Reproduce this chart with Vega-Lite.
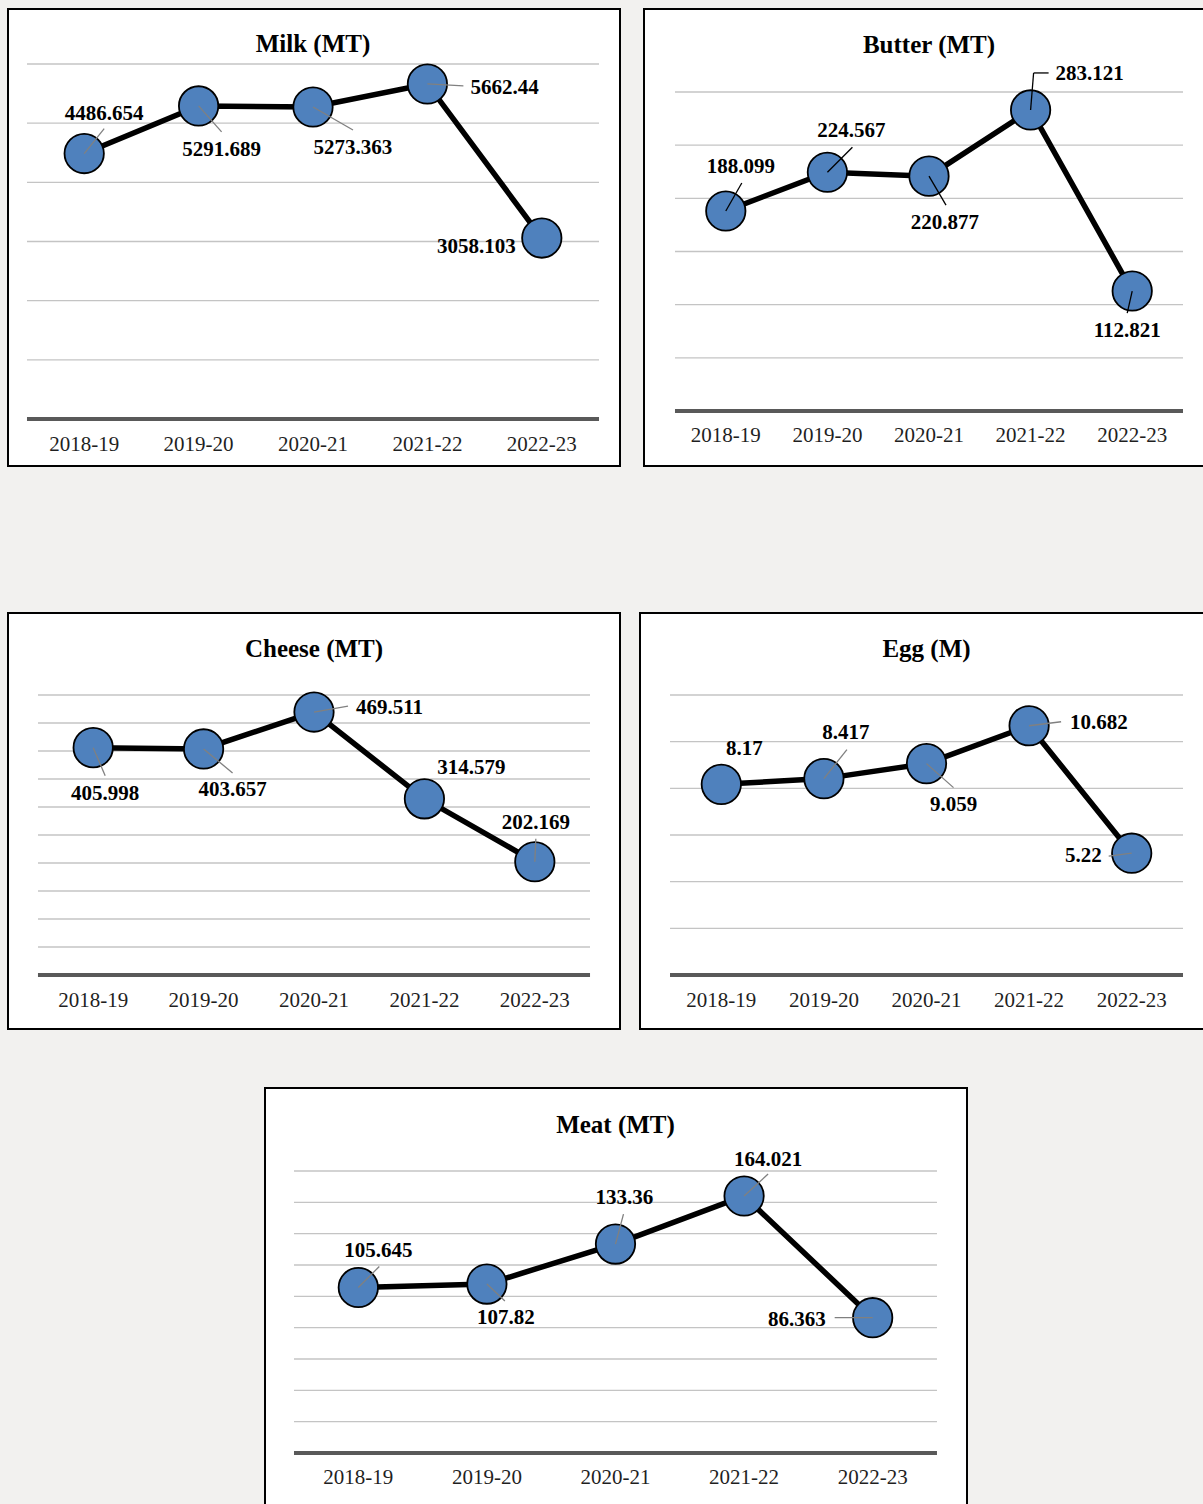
{
"$schema":"https://vega.github.io/schema/vega-lite/v6.json",
"background":"#f2f1ef",
"padding":{"left":7,"top":8,"right":0,"bottom":0},
"datasets":{"d":[
{"item":"Milk (MT)","year":"2018-19","value":4486.654},
{"item":"Milk (MT)","year":"2019-20","value":5291.689},
{"item":"Milk (MT)","year":"2020-21","value":5273.363},
{"item":"Milk (MT)","year":"2021-22","value":5662.44},
{"item":"Milk (MT)","year":"2022-23","value":3058.103},
{"item":"Butter (MT)","year":"2018-19","value":188.099},
{"item":"Butter (MT)","year":"2019-20","value":224.567},
{"item":"Butter (MT)","year":"2020-21","value":220.877},
{"item":"Butter (MT)","year":"2021-22","value":283.121},
{"item":"Butter (MT)","year":"2022-23","value":112.821},
{"item":"Cheese (MT)","year":"2018-19","value":405.998},
{"item":"Cheese (MT)","year":"2019-20","value":403.657},
{"item":"Cheese (MT)","year":"2020-21","value":469.511},
{"item":"Cheese (MT)","year":"2021-22","value":314.579},
{"item":"Cheese (MT)","year":"2022-23","value":202.169},
{"item":"Egg (M)","year":"2018-19","value":8.17},
{"item":"Egg (M)","year":"2019-20","value":8.417},
{"item":"Egg (M)","year":"2020-21","value":9.059},
{"item":"Egg (M)","year":"2021-22","value":10.682},
{"item":"Egg (M)","year":"2022-23","value":5.22},
{"item":"Meat (MT)","year":"2018-19","value":105.645},
{"item":"Meat (MT)","year":"2019-20","value":107.82},
{"item":"Meat (MT)","year":"2020-21","value":133.36},
{"item":"Meat (MT)","year":"2021-22","value":164.021},
{"item":"Meat (MT)","year":"2022-23","value":86.363}
]},
"config":{
"view":{"fill":"white","stroke":"black","strokeWidth":2},
"axis":{"disable":true},
"text":{"font":"Liberation Serif","fontSize":21,"fontWeight":"bold","color":"black","baseline":"middle"}
},
"vconcat":[
{"vconcat":[
{"hconcat":[
{"width":612,"height":457,"layer":[
{"data":{"values":[{"g":1000},{"g":2000},{"g":3000},{"g":4000},{"g":5000},{"g":6000}]},"mark":{"type":"rule","color":"#c4c4c4","strokeWidth":1.3},"encoding":{"x":{"datum":0.5,"type":"quantitative","scale":{"domain":[0.334,5.6835],"nice":false,"zero":false}},"x2":{"datum":5.5},"y":{"field":"g","type":"quantitative","scale":{"domain":[-794.3,6929.6],"nice":false,"zero":false}}}},
{"data":{"values":[{}]},"mark":{"type":"rule","color":"#595959","strokeWidth":4},"encoding":{"x":{"datum":0.5,"type":"quantitative","scale":{"domain":[0.334,5.6835],"nice":false,"zero":false}},"x2":{"datum":5.5},"y":{"datum":0,"type":"quantitative","scale":{"domain":[-794.3,6929.6],"nice":false,"zero":false}}}},
{"data":{"name":"d"},"transform":[{"filter":"datum.item === 'Milk (MT)'"},{"window":[{"op":"row_number","as":"i"}],"sort":[{"field":"year","order":"ascending"}]}],"layer":[
{"mark":{"type":"text","fontWeight":"normal","color":"#1f1f1f"},"encoding":{"x":{"field":"i","type":"quantitative","scale":{"domain":[0.334,5.6835],"nice":false,"zero":false}},"y":{"datum":-431,"type":"quantitative","scale":{"domain":[-794.3,6929.6],"nice":false,"zero":false}},"text":{"field":"year","type":"nominal"}}},
{"mark":{"type":"line","color":"black","strokeWidth":5.5},"encoding":{"x":{"field":"i","type":"quantitative","scale":{"domain":[0.334,5.6835],"nice":false,"zero":false}},"y":{"field":"value","type":"quantitative","scale":{"domain":[-794.3,6929.6],"nice":false,"zero":false}}}},
{"mark":{"type":"circle","fill":"#4f81bd","stroke":"black","strokeWidth":1.8,"size":1550,"opacity":1},"encoding":{"x":{"field":"i","type":"quantitative","scale":{"domain":[0.334,5.6835],"nice":false,"zero":false}},"y":{"field":"value","type":"quantitative","scale":{"domain":[-794.3,6929.6],"nice":false,"zero":false}}}},
{"transform":[{"filter":"datum.i === 1"}],"layer":[
{"mark":{"type":"rule","x2Offset":20,"y2Offset":-25,"color":"#808080","strokeWidth":1.3},"encoding":{"x":{"field":"i","type":"quantitative","scale":{"domain":[0.334,5.6835],"nice":false,"zero":false}},"y":{"field":"value","type":"quantitative","scale":{"domain":[-794.3,6929.6],"nice":false,"zero":false}},"x2":{"field":"i"},"y2":{"field":"value"}}},
{"mark":{"type":"text","dx":20,"dy":-40},"encoding":{"x":{"field":"i","type":"quantitative","scale":{"domain":[0.334,5.6835],"nice":false,"zero":false}},"y":{"field":"value","type":"quantitative","scale":{"domain":[-794.3,6929.6],"nice":false,"zero":false}},"text":{"field":"value","type":"nominal"}}}]},
{"transform":[{"filter":"datum.i === 2"}],"layer":[
{"mark":{"type":"rule","x2Offset":23,"y2Offset":26,"color":"#808080","strokeWidth":1.3},"encoding":{"x":{"field":"i","type":"quantitative","scale":{"domain":[0.334,5.6835],"nice":false,"zero":false}},"y":{"field":"value","type":"quantitative","scale":{"domain":[-794.3,6929.6],"nice":false,"zero":false}},"x2":{"field":"i"},"y2":{"field":"value"}}},
{"mark":{"type":"text","dx":23,"dy":44},"encoding":{"x":{"field":"i","type":"quantitative","scale":{"domain":[0.334,5.6835],"nice":false,"zero":false}},"y":{"field":"value","type":"quantitative","scale":{"domain":[-794.3,6929.6],"nice":false,"zero":false}},"text":{"field":"value","type":"nominal"}}}]},
{"transform":[{"filter":"datum.i === 3"}],"layer":[
{"mark":{"type":"rule","x2Offset":40,"y2Offset":23,"color":"#808080","strokeWidth":1.3},"encoding":{"x":{"field":"i","type":"quantitative","scale":{"domain":[0.334,5.6835],"nice":false,"zero":false}},"y":{"field":"value","type":"quantitative","scale":{"domain":[-794.3,6929.6],"nice":false,"zero":false}},"x2":{"field":"i"},"y2":{"field":"value"}}},
{"mark":{"type":"text","dx":40,"dy":41},"encoding":{"x":{"field":"i","type":"quantitative","scale":{"domain":[0.334,5.6835],"nice":false,"zero":false}},"y":{"field":"value","type":"quantitative","scale":{"domain":[-794.3,6929.6],"nice":false,"zero":false}},"text":{"field":"value","type":"nominal"}}},
{"mark":{"type":"text","fontSize":25},"encoding":{"x":{"field":"i","type":"quantitative","scale":{"domain":[0.334,5.6835],"nice":false,"zero":false}},"y":{"datum":6338,"type":"quantitative","scale":{"domain":[-794.3,6929.6],"nice":false,"zero":false}},"text":{"field":"item","type":"nominal"}}}]},
{"transform":[{"filter":"datum.i === 4"}],"layer":[
{"mark":{"type":"rule","x2Offset":36,"y2Offset":2,"color":"#808080","strokeWidth":1.3},"encoding":{"x":{"field":"i","type":"quantitative","scale":{"domain":[0.334,5.6835],"nice":false,"zero":false}},"y":{"field":"value","type":"quantitative","scale":{"domain":[-794.3,6929.6],"nice":false,"zero":false}},"x2":{"field":"i"},"y2":{"field":"value"}}},
{"mark":{"type":"text","align":"left","dx":43,"dy":4},"encoding":{"x":{"field":"i","type":"quantitative","scale":{"domain":[0.334,5.6835],"nice":false,"zero":false}},"y":{"field":"value","type":"quantitative","scale":{"domain":[-794.3,6929.6],"nice":false,"zero":false}},"text":{"field":"value","type":"nominal"}}}]},
{"transform":[{"filter":"datum.i === 5"}],"mark":{"type":"text","align":"right","dx":-26,"dy":9},"encoding":{"x":{"field":"i","type":"quantitative","scale":{"domain":[0.334,5.6835],"nice":false,"zero":false}},"y":{"field":"value","type":"quantitative","scale":{"domain":[-794.3,6929.6],"nice":false,"zero":false}},"text":{"field":"value","type":"nominal"}}}
]}]},
{"width":580,"height":457,"layer":[
{"data":{"values":[{"g":50},{"g":100},{"g":150},{"g":200},{"g":250},{"g":300}]},"mark":{"type":"rule","color":"#c4c4c4","strokeWidth":1.3},"encoding":{"x":{"datum":0.5,"type":"quantitative","scale":{"domain":[0.195,5.9035],"nice":false,"zero":false}},"x2":{"datum":5.5},"y":{"field":"g","type":"quantitative","scale":{"domain":[-51.72,378.06],"nice":false,"zero":false}}}},
{"data":{"values":[{}]},"mark":{"type":"rule","color":"#595959","strokeWidth":4},"encoding":{"x":{"datum":0.5,"type":"quantitative","scale":{"domain":[0.195,5.9035],"nice":false,"zero":false}},"x2":{"datum":5.5},"y":{"datum":0,"type":"quantitative","scale":{"domain":[-51.72,378.06],"nice":false,"zero":false}}}},
{"data":{"name":"d"},"transform":[{"filter":"datum.item === 'Butter (MT)'"},{"window":[{"op":"row_number","as":"i"}],"sort":[{"field":"year","order":"ascending"}]}],"layer":[
{"mark":{"type":"text","fontWeight":"normal","color":"#1f1f1f"},"encoding":{"x":{"field":"i","type":"quantitative","scale":{"domain":[0.195,5.9035],"nice":false,"zero":false}},"y":{"datum":-23.5,"type":"quantitative","scale":{"domain":[-51.72,378.06],"nice":false,"zero":false}},"text":{"field":"year","type":"nominal"}}},
{"mark":{"type":"line","color":"black","strokeWidth":5.5},"encoding":{"x":{"field":"i","type":"quantitative","scale":{"domain":[0.195,5.9035],"nice":false,"zero":false}},"y":{"field":"value","type":"quantitative","scale":{"domain":[-51.72,378.06],"nice":false,"zero":false}}}},
{"mark":{"type":"circle","fill":"#4f81bd","stroke":"black","strokeWidth":1.8,"size":1550,"opacity":1},"encoding":{"x":{"field":"i","type":"quantitative","scale":{"domain":[0.195,5.9035],"nice":false,"zero":false}},"y":{"field":"value","type":"quantitative","scale":{"domain":[-51.72,378.06],"nice":false,"zero":false}}}},
{"transform":[{"filter":"datum.i === 1"}],"layer":[
{"mark":{"type":"rule","x2Offset":16,"y2Offset":-28,"color":"black","strokeWidth":1.3},"encoding":{"x":{"field":"i","type":"quantitative","scale":{"domain":[0.195,5.9035],"nice":false,"zero":false}},"y":{"field":"value","type":"quantitative","scale":{"domain":[-51.72,378.06],"nice":false,"zero":false}},"x2":{"field":"i"},"y2":{"field":"value"}}},
{"mark":{"type":"text","dx":15,"dy":-44},"encoding":{"x":{"field":"i","type":"quantitative","scale":{"domain":[0.195,5.9035],"nice":false,"zero":false}},"y":{"field":"value","type":"quantitative","scale":{"domain":[-51.72,378.06],"nice":false,"zero":false}},"text":{"field":"value","type":"nominal"}}}]},
{"transform":[{"filter":"datum.i === 2"}],"layer":[
{"mark":{"type":"rule","x2Offset":25,"y2Offset":-25,"color":"black","strokeWidth":1.3},"encoding":{"x":{"field":"i","type":"quantitative","scale":{"domain":[0.195,5.9035],"nice":false,"zero":false}},"y":{"field":"value","type":"quantitative","scale":{"domain":[-51.72,378.06],"nice":false,"zero":false}},"x2":{"field":"i"},"y2":{"field":"value"}}},
{"mark":{"type":"text","dx":24,"dy":-41},"encoding":{"x":{"field":"i","type":"quantitative","scale":{"domain":[0.195,5.9035],"nice":false,"zero":false}},"y":{"field":"value","type":"quantitative","scale":{"domain":[-51.72,378.06],"nice":false,"zero":false}},"text":{"field":"value","type":"nominal"}}}]},
{"transform":[{"filter":"datum.i === 3"}],"layer":[
{"mark":{"type":"rule","x2Offset":17,"y2Offset":29,"color":"black","strokeWidth":1.3},"encoding":{"x":{"field":"i","type":"quantitative","scale":{"domain":[0.195,5.9035],"nice":false,"zero":false}},"y":{"field":"value","type":"quantitative","scale":{"domain":[-51.72,378.06],"nice":false,"zero":false}},"x2":{"field":"i"},"y2":{"field":"value"}}},
{"mark":{"type":"text","dx":16,"dy":47},"encoding":{"x":{"field":"i","type":"quantitative","scale":{"domain":[0.195,5.9035],"nice":false,"zero":false}},"y":{"field":"value","type":"quantitative","scale":{"domain":[-51.72,378.06],"nice":false,"zero":false}},"text":{"field":"value","type":"nominal"}}},
{"mark":{"type":"text","fontSize":25},"encoding":{"x":{"field":"i","type":"quantitative","scale":{"domain":[0.195,5.9035],"nice":false,"zero":false}},"y":{"datum":344.2,"type":"quantitative","scale":{"domain":[-51.72,378.06],"nice":false,"zero":false}},"text":{"field":"item","type":"nominal"}}}]},
{"transform":[{"filter":"datum.i === 4"}],"layer":[
{"mark":{"type":"rule","x2Offset":3,"y2Offset":-37,"color":"black","strokeWidth":1.3},"encoding":{"x":{"field":"i","type":"quantitative","scale":{"domain":[0.195,5.9035],"nice":false,"zero":false}},"y":{"field":"value","type":"quantitative","scale":{"domain":[-51.72,378.06],"nice":false,"zero":false}},"x2":{"field":"i"},"y2":{"field":"value"}}},
{"mark":{"type":"rule","xOffset":3,"yOffset":-37,"x2Offset":18,"y2Offset":-37,"color":"black","strokeWidth":1.3},"encoding":{"x":{"field":"i","type":"quantitative","scale":{"domain":[0.195,5.9035],"nice":false,"zero":false}},"y":{"field":"value","type":"quantitative","scale":{"domain":[-51.72,378.06],"nice":false,"zero":false}},"x2":{"field":"i"},"y2":{"field":"value"}}},
{"mark":{"type":"text","align":"left","dx":25,"dy":-36},"encoding":{"x":{"field":"i","type":"quantitative","scale":{"domain":[0.195,5.9035],"nice":false,"zero":false}},"y":{"field":"value","type":"quantitative","scale":{"domain":[-51.72,378.06],"nice":false,"zero":false}},"text":{"field":"value","type":"nominal"}}}]},
{"transform":[{"filter":"datum.i === 5"}],"layer":[
{"mark":{"type":"rule","x2Offset":-5,"y2Offset":22,"color":"black","strokeWidth":1.3},"encoding":{"x":{"field":"i","type":"quantitative","scale":{"domain":[0.195,5.9035],"nice":false,"zero":false}},"y":{"field":"value","type":"quantitative","scale":{"domain":[-51.72,378.06],"nice":false,"zero":false}},"x2":{"field":"i"},"y2":{"field":"value"}}},
{"mark":{"type":"text","dx":-5,"dy":40},"encoding":{"x":{"field":"i","type":"quantitative","scale":{"domain":[0.195,5.9035],"nice":false,"zero":false}},"y":{"field":"value","type":"quantitative","scale":{"domain":[-51.72,378.06],"nice":false,"zero":false}},"text":{"field":"value","type":"nominal"}}}]}
]}]}
],"spacing":22},
{"hconcat":[
{"width":612,"height":416,"layer":[
{"data":{"values":[{"g":50},{"g":100},{"g":150},{"g":200},{"g":250},{"g":300},{"g":350},{"g":400},{"g":450},{"g":500}]},"mark":{"type":"rule","color":"#c4c4c4","strokeWidth":1.3},"encoding":{"x":{"datum":0.5,"type":"quantitative","scale":{"domain":[0.2285,5.7715],"nice":false,"zero":false}},"x2":{"datum":5.5},"y":{"field":"g","type":"quantitative","scale":{"domain":[-96.4,646.4],"nice":false,"zero":false}}}},
{"data":{"values":[{}]},"mark":{"type":"rule","color":"#595959","strokeWidth":4},"encoding":{"x":{"datum":0.5,"type":"quantitative","scale":{"domain":[0.2285,5.7715],"nice":false,"zero":false}},"x2":{"datum":5.5},"y":{"datum":0,"type":"quantitative","scale":{"domain":[-96.4,646.4],"nice":false,"zero":false}}}},
{"data":{"name":"d"},"transform":[{"filter":"datum.item === 'Cheese (MT)'"},{"window":[{"op":"row_number","as":"i"}],"sort":[{"field":"year","order":"ascending"}]}],"layer":[
{"mark":{"type":"text","fontWeight":"normal","color":"#1f1f1f"},"encoding":{"x":{"field":"i","type":"quantitative","scale":{"domain":[0.2285,5.7715],"nice":false,"zero":false}},"y":{"datum":-46.4,"type":"quantitative","scale":{"domain":[-96.4,646.4],"nice":false,"zero":false}},"text":{"field":"year","type":"nominal"}}},
{"mark":{"type":"line","color":"black","strokeWidth":5.5},"encoding":{"x":{"field":"i","type":"quantitative","scale":{"domain":[0.2285,5.7715],"nice":false,"zero":false}},"y":{"field":"value","type":"quantitative","scale":{"domain":[-96.4,646.4],"nice":false,"zero":false}}}},
{"mark":{"type":"circle","fill":"#4f81bd","stroke":"black","strokeWidth":1.8,"size":1550,"opacity":1},"encoding":{"x":{"field":"i","type":"quantitative","scale":{"domain":[0.2285,5.7715],"nice":false,"zero":false}},"y":{"field":"value","type":"quantitative","scale":{"domain":[-96.4,646.4],"nice":false,"zero":false}}}},
{"transform":[{"filter":"datum.i === 1"}],"layer":[
{"mark":{"type":"rule","x2Offset":12,"y2Offset":28,"color":"#808080","strokeWidth":1.3},"encoding":{"x":{"field":"i","type":"quantitative","scale":{"domain":[0.2285,5.7715],"nice":false,"zero":false}},"y":{"field":"value","type":"quantitative","scale":{"domain":[-96.4,646.4],"nice":false,"zero":false}},"x2":{"field":"i"},"y2":{"field":"value"}}},
{"mark":{"type":"text","dx":12,"dy":46},"encoding":{"x":{"field":"i","type":"quantitative","scale":{"domain":[0.2285,5.7715],"nice":false,"zero":false}},"y":{"field":"value","type":"quantitative","scale":{"domain":[-96.4,646.4],"nice":false,"zero":false}},"text":{"field":"value","type":"nominal"}}}]},
{"transform":[{"filter":"datum.i === 2"}],"layer":[
{"mark":{"type":"rule","x2Offset":29,"y2Offset":24,"color":"#808080","strokeWidth":1.3},"encoding":{"x":{"field":"i","type":"quantitative","scale":{"domain":[0.2285,5.7715],"nice":false,"zero":false}},"y":{"field":"value","type":"quantitative","scale":{"domain":[-96.4,646.4],"nice":false,"zero":false}},"x2":{"field":"i"},"y2":{"field":"value"}}},
{"mark":{"type":"text","dx":29,"dy":41},"encoding":{"x":{"field":"i","type":"quantitative","scale":{"domain":[0.2285,5.7715],"nice":false,"zero":false}},"y":{"field":"value","type":"quantitative","scale":{"domain":[-96.4,646.4],"nice":false,"zero":false}},"text":{"field":"value","type":"nominal"}}}]},
{"transform":[{"filter":"datum.i === 3"}],"layer":[
{"mark":{"type":"rule","x2Offset":34,"y2Offset":-6,"color":"#808080","strokeWidth":1.3},"encoding":{"x":{"field":"i","type":"quantitative","scale":{"domain":[0.2285,5.7715],"nice":false,"zero":false}},"y":{"field":"value","type":"quantitative","scale":{"domain":[-96.4,646.4],"nice":false,"zero":false}},"x2":{"field":"i"},"y2":{"field":"value"}}},
{"mark":{"type":"text","align":"left","dx":42,"dy":-4},"encoding":{"x":{"field":"i","type":"quantitative","scale":{"domain":[0.2285,5.7715],"nice":false,"zero":false}},"y":{"field":"value","type":"quantitative","scale":{"domain":[-96.4,646.4],"nice":false,"zero":false}},"text":{"field":"value","type":"nominal"}}},
{"mark":{"type":"text","fontSize":25},"encoding":{"x":{"field":"i","type":"quantitative","scale":{"domain":[0.2285,5.7715],"nice":false,"zero":false}},"y":{"datum":581.6,"type":"quantitative","scale":{"domain":[-96.4,646.4],"nice":false,"zero":false}},"text":{"field":"item","type":"nominal"}}}]},
{"transform":[{"filter":"datum.i === 4"}],"mark":{"type":"text","dx":47,"dy":-31},"encoding":{"x":{"field":"i","type":"quantitative","scale":{"domain":[0.2285,5.7715],"nice":false,"zero":false}},"y":{"field":"value","type":"quantitative","scale":{"domain":[-96.4,646.4],"nice":false,"zero":false}},"text":{"field":"value","type":"nominal"}}},
{"transform":[{"filter":"datum.i === 5"}],"layer":[
{"mark":{"type":"rule","x2Offset":1,"y2Offset":-23,"color":"#808080","strokeWidth":1.3},"encoding":{"x":{"field":"i","type":"quantitative","scale":{"domain":[0.2285,5.7715],"nice":false,"zero":false}},"y":{"field":"value","type":"quantitative","scale":{"domain":[-96.4,646.4],"nice":false,"zero":false}},"x2":{"field":"i"},"y2":{"field":"value"}}},
{"mark":{"type":"text","dx":1,"dy":-39},"encoding":{"x":{"field":"i","type":"quantitative","scale":{"domain":[0.2285,5.7715],"nice":false,"zero":false}},"y":{"field":"value","type":"quantitative","scale":{"domain":[-96.4,646.4],"nice":false,"zero":false}},"text":{"field":"value","type":"nominal"}}}]}
]}]},
{"width":584,"height":416,"layer":[
{"data":{"values":[{"g":2},{"g":4},{"g":6},{"g":8},{"g":10},{"g":12}]},"mark":{"type":"rule","color":"#c4c4c4","strokeWidth":1.3},"encoding":{"x":{"datum":0.5,"type":"quantitative","scale":{"domain":[0.2075,5.8995],"nice":false,"zero":false}},"x2":{"datum":5.5},"y":{"field":"g","type":"quantitative","scale":{"domain":[-2.314,15.514],"nice":false,"zero":false}}}},
{"data":{"values":[{}]},"mark":{"type":"rule","color":"#595959","strokeWidth":4},"encoding":{"x":{"datum":0.5,"type":"quantitative","scale":{"domain":[0.2075,5.8995],"nice":false,"zero":false}},"x2":{"datum":5.5},"y":{"datum":0,"type":"quantitative","scale":{"domain":[-2.314,15.514],"nice":false,"zero":false}}}},
{"data":{"name":"d"},"transform":[{"filter":"datum.item === 'Egg (M)'"},{"window":[{"op":"row_number","as":"i"}],"sort":[{"field":"year","order":"ascending"}]}],"layer":[
{"mark":{"type":"text","fontWeight":"normal","color":"#1f1f1f"},"encoding":{"x":{"field":"i","type":"quantitative","scale":{"domain":[0.2075,5.8995],"nice":false,"zero":false}},"y":{"datum":-1.114,"type":"quantitative","scale":{"domain":[-2.314,15.514],"nice":false,"zero":false}},"text":{"field":"year","type":"nominal"}}},
{"mark":{"type":"line","color":"black","strokeWidth":5.5},"encoding":{"x":{"field":"i","type":"quantitative","scale":{"domain":[0.2075,5.8995],"nice":false,"zero":false}},"y":{"field":"value","type":"quantitative","scale":{"domain":[-2.314,15.514],"nice":false,"zero":false}}}},
{"mark":{"type":"circle","fill":"#4f81bd","stroke":"black","strokeWidth":1.8,"size":1550,"opacity":1},"encoding":{"x":{"field":"i","type":"quantitative","scale":{"domain":[0.2075,5.8995],"nice":false,"zero":false}},"y":{"field":"value","type":"quantitative","scale":{"domain":[-2.314,15.514],"nice":false,"zero":false}}}},
{"transform":[{"filter":"datum.i === 1"}],"mark":{"type":"text","dx":23,"dy":-35},"encoding":{"x":{"field":"i","type":"quantitative","scale":{"domain":[0.2075,5.8995],"nice":false,"zero":false}},"y":{"field":"value","type":"quantitative","scale":{"domain":[-2.314,15.514],"nice":false,"zero":false}},"text":{"field":"value","type":"nominal"}}},
{"transform":[{"filter":"datum.i === 2"}],"layer":[
{"mark":{"type":"rule","x2Offset":23,"y2Offset":-29,"color":"#808080","strokeWidth":1.3},"encoding":{"x":{"field":"i","type":"quantitative","scale":{"domain":[0.2075,5.8995],"nice":false,"zero":false}},"y":{"field":"value","type":"quantitative","scale":{"domain":[-2.314,15.514],"nice":false,"zero":false}},"x2":{"field":"i"},"y2":{"field":"value"}}},
{"mark":{"type":"text","dx":22,"dy":-46},"encoding":{"x":{"field":"i","type":"quantitative","scale":{"domain":[0.2075,5.8995],"nice":false,"zero":false}},"y":{"field":"value","type":"quantitative","scale":{"domain":[-2.314,15.514],"nice":false,"zero":false}},"text":{"field":"value","type":"nominal"}}}]},
{"transform":[{"filter":"datum.i === 3"}],"layer":[
{"mark":{"type":"rule","x2Offset":27,"y2Offset":24,"color":"#808080","strokeWidth":1.3},"encoding":{"x":{"field":"i","type":"quantitative","scale":{"domain":[0.2075,5.8995],"nice":false,"zero":false}},"y":{"field":"value","type":"quantitative","scale":{"domain":[-2.314,15.514],"nice":false,"zero":false}},"x2":{"field":"i"},"y2":{"field":"value"}}},
{"mark":{"type":"text","dx":27,"dy":41},"encoding":{"x":{"field":"i","type":"quantitative","scale":{"domain":[0.2075,5.8995],"nice":false,"zero":false}},"y":{"field":"value","type":"quantitative","scale":{"domain":[-2.314,15.514],"nice":false,"zero":false}},"text":{"field":"value","type":"nominal"}}},
{"mark":{"type":"text","fontSize":25},"encoding":{"x":{"field":"i","type":"quantitative","scale":{"domain":[0.2075,5.8995],"nice":false,"zero":false}},"y":{"datum":13.96,"type":"quantitative","scale":{"domain":[-2.314,15.514],"nice":false,"zero":false}},"text":{"field":"item","type":"nominal"}}}]},
{"transform":[{"filter":"datum.i === 4"}],"layer":[
{"mark":{"type":"rule","x2Offset":32,"y2Offset":-4,"color":"#808080","strokeWidth":1.3},"encoding":{"x":{"field":"i","type":"quantitative","scale":{"domain":[0.2075,5.8995],"nice":false,"zero":false}},"y":{"field":"value","type":"quantitative","scale":{"domain":[-2.314,15.514],"nice":false,"zero":false}},"x2":{"field":"i"},"y2":{"field":"value"}}},
{"mark":{"type":"text","align":"left","dx":41,"dy":-3},"encoding":{"x":{"field":"i","type":"quantitative","scale":{"domain":[0.2075,5.8995],"nice":false,"zero":false}},"y":{"field":"value","type":"quantitative","scale":{"domain":[-2.314,15.514],"nice":false,"zero":false}},"text":{"field":"value","type":"nominal"}}}]},
{"transform":[{"filter":"datum.i === 5"}],"layer":[
{"mark":{"type":"rule","x2Offset":-23,"y2Offset":3,"color":"#808080","strokeWidth":1.3},"encoding":{"x":{"field":"i","type":"quantitative","scale":{"domain":[0.2075,5.8995],"nice":false,"zero":false}},"y":{"field":"value","type":"quantitative","scale":{"domain":[-2.314,15.514],"nice":false,"zero":false}},"x2":{"field":"i"},"y2":{"field":"value"}}},
{"mark":{"type":"text","align":"right","dx":-30,"dy":3},"encoding":{"x":{"field":"i","type":"quantitative","scale":{"domain":[0.2075,5.8995],"nice":false,"zero":false}},"y":{"field":"value","type":"quantitative","scale":{"domain":[-2.314,15.514],"nice":false,"zero":false}},"text":{"field":"value","type":"nominal"}}}]}
]}]}
],"spacing":18}
],"spacing":145},
{"width":702,"height":419,"layer":[
{"data":{"values":[{"g":20},{"g":40},{"g":60},{"g":80},{"g":100},{"g":120},{"g":140},{"g":160},{"g":180}]},"mark":{"type":"rule","color":"#c4c4c4","strokeWidth":1.3},"encoding":{"x":{"datum":0.5,"type":"quantitative","scale":{"domain":[0.2745,5.7335],"nice":false,"zero":false}},"x2":{"datum":5.5},"y":{"field":"g","type":"quantitative","scale":{"domain":[-34.47,232.98],"nice":false,"zero":false}}}},
{"data":{"values":[{}]},"mark":{"type":"rule","color":"#595959","strokeWidth":4},"encoding":{"x":{"datum":0.5,"type":"quantitative","scale":{"domain":[0.2745,5.7335],"nice":false,"zero":false}},"x2":{"datum":5.5},"y":{"datum":0,"type":"quantitative","scale":{"domain":[-34.47,232.98],"nice":false,"zero":false}}}},
{"data":{"name":"d"},"transform":[{"filter":"datum.item === 'Meat (MT)'"},{"window":[{"op":"row_number","as":"i"}],"sort":[{"field":"year","order":"ascending"}]}],"layer":[
{"mark":{"type":"text","fontWeight":"normal","color":"#1f1f1f"},"encoding":{"x":{"field":"i","type":"quantitative","scale":{"domain":[0.2745,5.7335],"nice":false,"zero":false}},"y":{"datum":-15.96,"type":"quantitative","scale":{"domain":[-34.47,232.98],"nice":false,"zero":false}},"text":{"field":"year","type":"nominal"}}},
{"mark":{"type":"line","color":"black","strokeWidth":5.5},"encoding":{"x":{"field":"i","type":"quantitative","scale":{"domain":[0.2745,5.7335],"nice":false,"zero":false}},"y":{"field":"value","type":"quantitative","scale":{"domain":[-34.47,232.98],"nice":false,"zero":false}}}},
{"mark":{"type":"circle","fill":"#4f81bd","stroke":"black","strokeWidth":1.8,"size":1550,"opacity":1},"encoding":{"x":{"field":"i","type":"quantitative","scale":{"domain":[0.2745,5.7335],"nice":false,"zero":false}},"y":{"field":"value","type":"quantitative","scale":{"domain":[-34.47,232.98],"nice":false,"zero":false}}}},
{"transform":[{"filter":"datum.i === 1"}],"layer":[
{"mark":{"type":"rule","x2Offset":21,"y2Offset":-21,"color":"#808080","strokeWidth":1.3},"encoding":{"x":{"field":"i","type":"quantitative","scale":{"domain":[0.2745,5.7335],"nice":false,"zero":false}},"y":{"field":"value","type":"quantitative","scale":{"domain":[-34.47,232.98],"nice":false,"zero":false}},"x2":{"field":"i"},"y2":{"field":"value"}}},
{"mark":{"type":"text","dx":20,"dy":-36},"encoding":{"x":{"field":"i","type":"quantitative","scale":{"domain":[0.2745,5.7335],"nice":false,"zero":false}},"y":{"field":"value","type":"quantitative","scale":{"domain":[-34.47,232.98],"nice":false,"zero":false}},"text":{"field":"value","type":"nominal"}}}]},
{"transform":[{"filter":"datum.i === 2"}],"layer":[
{"mark":{"type":"rule","x2Offset":18,"y2Offset":17,"color":"#808080","strokeWidth":1.3},"encoding":{"x":{"field":"i","type":"quantitative","scale":{"domain":[0.2745,5.7335],"nice":false,"zero":false}},"y":{"field":"value","type":"quantitative","scale":{"domain":[-34.47,232.98],"nice":false,"zero":false}},"x2":{"field":"i"},"y2":{"field":"value"}}},
{"mark":{"type":"text","dx":19,"dy":34},"encoding":{"x":{"field":"i","type":"quantitative","scale":{"domain":[0.2745,5.7335],"nice":false,"zero":false}},"y":{"field":"value","type":"quantitative","scale":{"domain":[-34.47,232.98],"nice":false,"zero":false}},"text":{"field":"value","type":"nominal"}}}]},
{"transform":[{"filter":"datum.i === 3"}],"layer":[
{"mark":{"type":"rule","x2Offset":8,"y2Offset":-30,"color":"#808080","strokeWidth":1.3},"encoding":{"x":{"field":"i","type":"quantitative","scale":{"domain":[0.2745,5.7335],"nice":false,"zero":false}},"y":{"field":"value","type":"quantitative","scale":{"domain":[-34.47,232.98],"nice":false,"zero":false}},"x2":{"field":"i"},"y2":{"field":"value"}}},
{"mark":{"type":"text","dx":9,"dy":-46},"encoding":{"x":{"field":"i","type":"quantitative","scale":{"domain":[0.2745,5.7335],"nice":false,"zero":false}},"y":{"field":"value","type":"quantitative","scale":{"domain":[-34.47,232.98],"nice":false,"zero":false}},"text":{"field":"value","type":"nominal"}}},
{"mark":{"type":"text","fontSize":25},"encoding":{"x":{"field":"i","type":"quantitative","scale":{"domain":[0.2745,5.7335],"nice":false,"zero":false}},"y":{"datum":209.4,"type":"quantitative","scale":{"domain":[-34.47,232.98],"nice":false,"zero":false}},"text":{"field":"item","type":"nominal"}}}]},
{"transform":[{"filter":"datum.i === 4"}],"layer":[
{"mark":{"type":"rule","x2Offset":24,"y2Offset":-22,"color":"#808080","strokeWidth":1.3},"encoding":{"x":{"field":"i","type":"quantitative","scale":{"domain":[0.2745,5.7335],"nice":false,"zero":false}},"y":{"field":"value","type":"quantitative","scale":{"domain":[-34.47,232.98],"nice":false,"zero":false}},"x2":{"field":"i"},"y2":{"field":"value"}}},
{"mark":{"type":"text","dx":24,"dy":-36},"encoding":{"x":{"field":"i","type":"quantitative","scale":{"domain":[0.2745,5.7335],"nice":false,"zero":false}},"y":{"field":"value","type":"quantitative","scale":{"domain":[-34.47,232.98],"nice":false,"zero":false}},"text":{"field":"value","type":"nominal"}}}]},
{"transform":[{"filter":"datum.i === 5"}],"layer":[
{"mark":{"type":"rule","x2Offset":-38,"y2Offset":0,"color":"#808080","strokeWidth":1.3},"encoding":{"x":{"field":"i","type":"quantitative","scale":{"domain":[0.2745,5.7335],"nice":false,"zero":false}},"y":{"field":"value","type":"quantitative","scale":{"domain":[-34.47,232.98],"nice":false,"zero":false}},"x2":{"field":"i"},"y2":{"field":"value"}}},
{"mark":{"type":"text","align":"right","dx":-47,"dy":2},"encoding":{"x":{"field":"i","type":"quantitative","scale":{"domain":[0.2745,5.7335],"nice":false,"zero":false}},"y":{"field":"value","type":"quantitative","scale":{"domain":[-34.47,232.98],"nice":false,"zero":false}},"text":{"field":"value","type":"nominal"}}}]}
]}]}
],"spacing":57,"center":true}
